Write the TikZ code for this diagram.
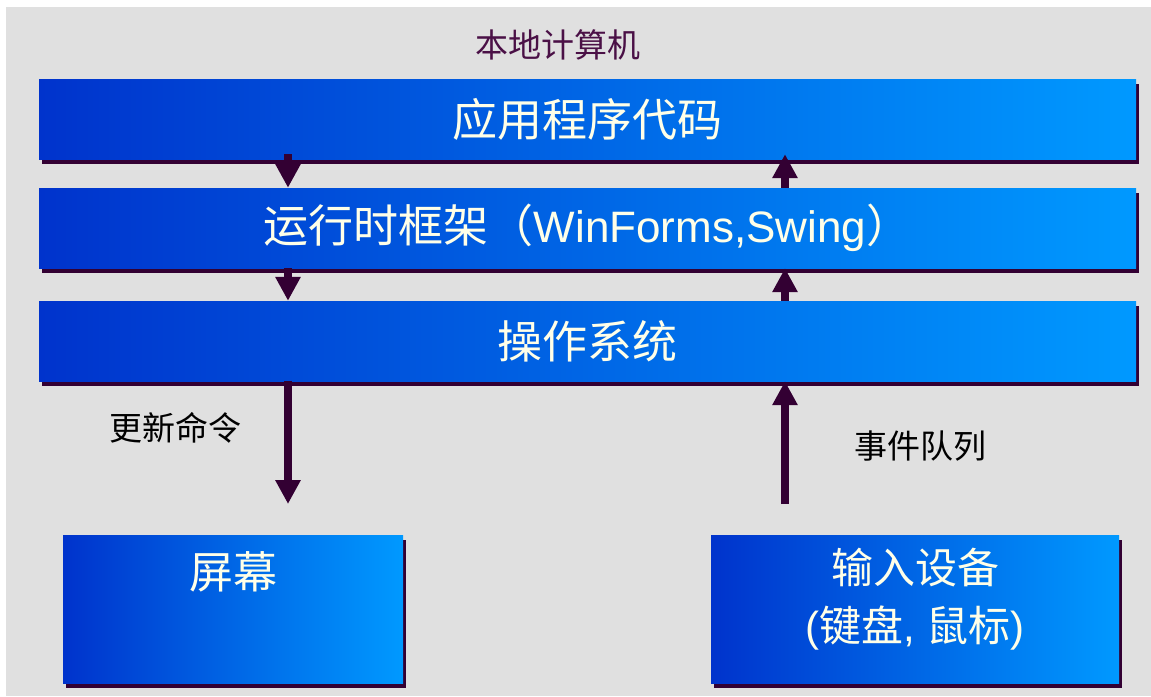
\documentclass[tikz,border=0pt]{standalone}
\usepackage{fontspec}
\setmainfont{Liberation Sans}
\newfontfamily\cjk{Noto Sans CJK SC}
\usetikzlibrary{arrows.meta,shadows}

\definecolor{bggray}{HTML}{E0E0E0}
\definecolor{deepblue}{HTML}{0033CC}
\definecolor{skyblue}{HTML}{0099FF}
\definecolor{plum}{HTML}{330033}
\definecolor{titleplum}{HTML}{4A1046}
\definecolor{cream}{HTML}{FFFFE8}

\tikzset{
  layer/.style={minimum width=1097pt, minimum height=80pt, inner sep=0pt,
    left color=deepblue, right color=skyblue,
    drop shadow={shadow xshift=3pt, shadow yshift=-5pt, fill=plum, opacity=1},
    text=cream, font=\cjk\fontsize{45}{54}\selectfont},
  device/.style={layer, minimum width=#1, minimum height=148pt},
  devtext/.style={text=cream, align=center, font=\cjk\fontsize{42}{58}\selectfont},
  flow/.style={draw=plum, line width=8pt, -{Triangle[width=24pt,length=24pt]}},
  caption/.style={font=\cjk\fontsize{33}{40}\selectfont},
}

\begin{document}
\begin{tikzpicture}[x=1pt, y=-1pt]
\useasboundingbox (0,0) rectangle (1151,696);
\fill[bggray] (6,7) rectangle (1151,696);

\node[caption, text=titleplum] (host) at (558,45) {本地计算机};

% three software layers
\node[layer] (app) at (587.5,119) {应用程序代码};
\node[layer] (runtime) at (587.5,228)
  {运行时框架（{\rmfamily\fontsize{44}{54}\selectfont WinForms,Swing}）};
\node[layer] (os) at (587.5,341) {操作系统};

% hardware
\node[device=340pt] (screen) at (233,609) {};
\node[device=408pt] (input) at (915,609) {};
\node[devtext, font=\cjk\fontsize{44}{58}\selectfont] (screentext) at ([yshift=-37pt]screen.north) {屏幕};
\node[devtext] (inputtext) at ([yshift=10pt]input.center)
  {输入设备\\{\rmfamily (}键盘{\rmfamily , }鼠标{\rmfamily )}};

\coordinate (down) at (288,0);
\coordinate (up) at (785,0);
\coordinate (cmdend) at (288,504);
\coordinate (evtstart) at (785,504);

% output path
\draw[flow] ([yshift=5pt]app.south -| down) -- (runtime.north -| down);
\draw[flow] (runtime.south -| down) -- (os.north -| down);
\draw[flow] (os.south -| down) -- (cmdend);
\node[caption] (cmd) at (175.5,428) {更新命令};

% input path
\draw[flow] (evtstart) -- (os.south -| up);
\draw[flow] (os.north -| up) -- (runtime.south -| up);
\draw[flow] (runtime.north -| up) -- ([yshift=5pt]app.south -| up);
\node[caption] (evt) at (920,446) {事件队列};
\end{tikzpicture}
\end{document}
